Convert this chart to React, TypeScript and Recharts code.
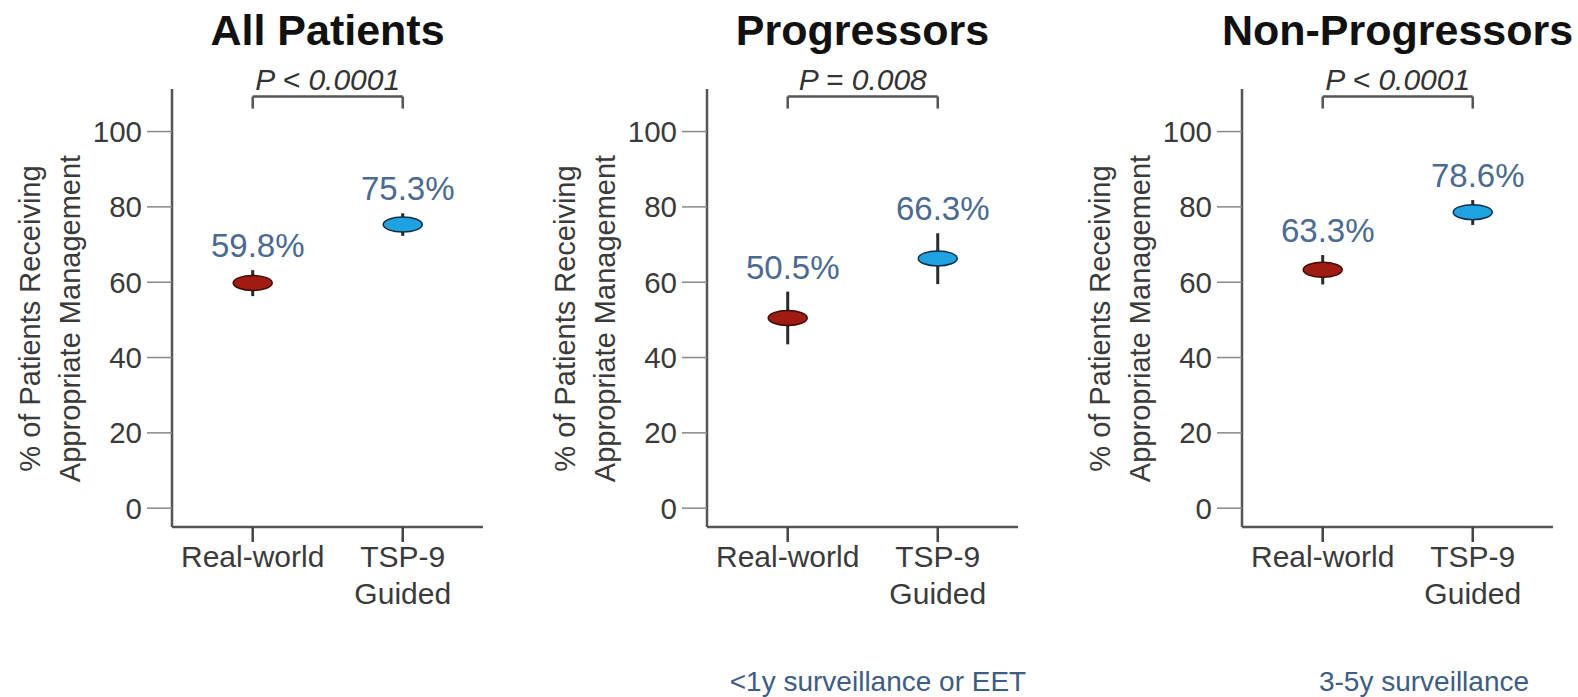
import React from 'react';
import { ScatterChart, Scatter, XAxis, YAxis, ErrorBar, ReferenceLine, Label } from 'recharts';

// ---------- data ----------
const categories = ['Real-world', 'TSP-9\nGuided'];
const categoryX = [1, 2];
const panelTitles = ['All Patients', 'Progressors', 'Non-Progressors'];
const pValues = ['P < 0.0001', 'P = 0.008', 'P < 0.0001'];
const subtitles = ['', '<1y surveillance or EET', '3-5y surveillance'];
const yAxisLabelLines = ['% of Patients Receiving', 'Appropriate Management'];
const yTicks = [0, 20, 40, 60, 80, 100];

const realWorldPct = [59.8, 50.5, 63.3];
const realWorldLow = [56.3, 43.5, 59.4];
const realWorldHigh = [63.2, 57.5, 67.2];
const tspPct = [75.3, 66.3, 78.6];
const tspLow = [72.3, 59.5, 75.2];
const tspHigh = [78.3, 73.0, 81.8];

const bracketY = 109.3;
const bracketTipY = 106.1;

// ---------- style / layout ----------
const FONT = '"Liberation Sans", Arial, sans-serif';
const PANEL_W = 535;
const H = 697;
const MARGIN = { top: 89, right: 52, bottom: 110, left: 92 };
const YAXIS_W = 80;
const XAXIS_H = 60;
const PLOT_CX = 327.5;
const SUBTITLE_CX = [327.5, 343, 354];
const RED = '#a01c12';
const RED_EDGE = '#3f0c08';
const BLUE = '#1fa3e0';
const BLUE_EDGE = '#0e2f4a';
const LABEL_BLUE = '#4a6a94';

const Ellipse = (props: any) => {
  const { cx, cy, payload } = props;
  if (cx == null || cy == null) return null;
  return (
    <ellipse
      cx={cx}
      cy={cy}
      rx={19.5}
      ry={7.5}
      fill={payload.fill}
      stroke={payload.edge}
      strokeWidth={1.5}
    />
  );
};

const ValueLabel = (props: any) => {
  const { cx, cy, payload } = props;
  if (cx == null || cy == null) return null;
  return (
    <text
      x={cx + 5}
      y={cy - 13}
      textAnchor="middle"
      fontSize={33}
      fontFamily={FONT}
      fill={LABEL_BLUE}
    >
      {payload.label}
    </text>
  );
};

const XTick = (props: any) => {
  const { x, y, payload } = props;
  const idx = categoryX.indexOf(payload.value);
  const lines = (categories[idx] ?? '').split('\n');
  return (
    <g>
      {lines.map((l, i) => (
        <text
          key={i}
          x={x}
          y={y + 25 + i * 37}
          textAnchor="middle"
          fontSize={30}
          fontFamily={FONT}
          fill="#3a3a3a"
        >
          {l}
        </text>
      ))}
    </g>
  );
};

const YLabel = (props: any) => {
  const vb = props.viewBox || { x: MARGIN.left, y: MARGIN.top, width: YAXIS_W, height: H - MARGIN.top - MARGIN.bottom - XAXIS_H };
  const axisX = vb.x + vb.width;
  const cy = 318.5;
  const offs = [142, 102];
  return (
    <g>
      {yAxisLabelLines.map((t, i) => (
        <text
          key={i}
          x={axisX - offs[i]}
          y={cy}
          transform={`rotate(-90, ${axisX - offs[i]}, ${cy})`}
          textAnchor="middle"
          dominantBaseline="central"
          fontSize={29}
          fontFamily={FONT}
          fill="#3a3a3a"
        >
          {t}
        </text>
      ))}
    </g>
  );
};

const Panel = ({ i }: { i: number }) => {
  const points = [
    { x: categoryX[0], y: realWorldPct[i], err: [realWorldPct[i] - realWorldLow[i], realWorldHigh[i] - realWorldPct[i]], fill: RED, edge: RED_EDGE },
    { x: categoryX[1], y: tspPct[i], err: [tspPct[i] - tspLow[i], tspHigh[i] - tspPct[i]], fill: BLUE, edge: BLUE_EDGE },
  ];
  const labels = [
    { x: categoryX[0], y: realWorldHigh[i], label: `${realWorldPct[i].toFixed(1)}%` },
    { x: categoryX[1], y: tspHigh[i], label: `${tspPct[i].toFixed(1)}%` },
  ];
  return (
    <div style={{ position: 'absolute', left: i * PANEL_W, top: 0, width: PANEL_W, height: H }}>
      <ScatterChart width={PANEL_W} height={H} margin={MARGIN}>
        <XAxis
          type="number"
          dataKey="x"
          domain={[0.462, 2.535]}
          ticks={categoryX}
          height={XAXIS_H}
          tickSize={15}
          tickMargin={0}
          axisLine={{ stroke: '#555', strokeWidth: 2.5 }}
          tickLine={{ stroke: '#444', strokeWidth: 2.5 }}
          tick={<XTick />}
          allowDataOverflow
        />
        <YAxis
          type="number"
          dataKey="y"
          domain={[-5, 111.3]}
          ticks={yTicks}
          width={YAXIS_W}
          tickSize={25}
          tickMargin={5}
          axisLine={{ stroke: '#555', strokeWidth: 2.5 }}
          tickLine={{ stroke: '#888', strokeWidth: 1.5 }}
          tick={{ fontSize: 29.5, fontFamily: FONT, fill: '#3a3a3a' }}
          allowDataOverflow
        >
          <Label content={<YLabel />} />
        </YAxis>
        <ReferenceLine
          segment={[{ x: categoryX[0], y: bracketY }, { x: categoryX[1], y: bracketY }]}
          stroke="#555"
          strokeWidth={2.5}
          ifOverflow="visible"
        >
          <Label
            value={pValues[i]}
            position="top"
            offset={7}
            fontSize={30}
            fontStyle="italic"
            fontFamily={FONT}
            fill="#333"
          />
        </ReferenceLine>
        <ReferenceLine
          segment={[{ x: categoryX[0], y: bracketY }, { x: categoryX[0], y: bracketTipY }]}
          stroke="#555"
          strokeWidth={2.5}
          ifOverflow="visible"
        />
        <ReferenceLine
          segment={[{ x: categoryX[1], y: bracketY }, { x: categoryX[1], y: bracketTipY }]}
          stroke="#555"
          strokeWidth={2.5}
          ifOverflow="visible"
        />
        <Scatter data={points} shape={<Ellipse />} isAnimationActive={false}>
          <ErrorBar dataKey="err" direction="y" width={0} strokeWidth={3} stroke="#2b2b2b" />
        </Scatter>
        <Scatter data={labels} shape={<ValueLabel />} isAnimationActive={false} />
      </ScatterChart>
      <svg
        width={PANEL_W}
        height={H}
        style={{ position: 'absolute', left: 0, top: 0, pointerEvents: 'none' }}
      >
        <text x={PLOT_CX} y={45} textAnchor="middle" fontSize={43} fontWeight="bold" fontFamily={FONT} fill="#111">
          {panelTitles[i]}
        </text>
        {subtitles[i] ? (
          <text x={SUBTITLE_CX[i]} y={691} textAnchor="middle" fontSize={28} fontFamily={FONT} fill="#3d5c86">
            {subtitles[i]}
          </text>
        ) : null}
      </svg>
    </div>
  );
}

export default function App() {
  return (
    <div
      style={{
        position: 'absolute',
        left: 0,
        top: 0,
        width: 1578,
        height: H,
        overflow: 'hidden',
        background: '#fff',
      }}
    >
      {panelTitles.map((_, i) => (
        <Panel key={i} i={i} />
      ))}
    </div>
  );
}
